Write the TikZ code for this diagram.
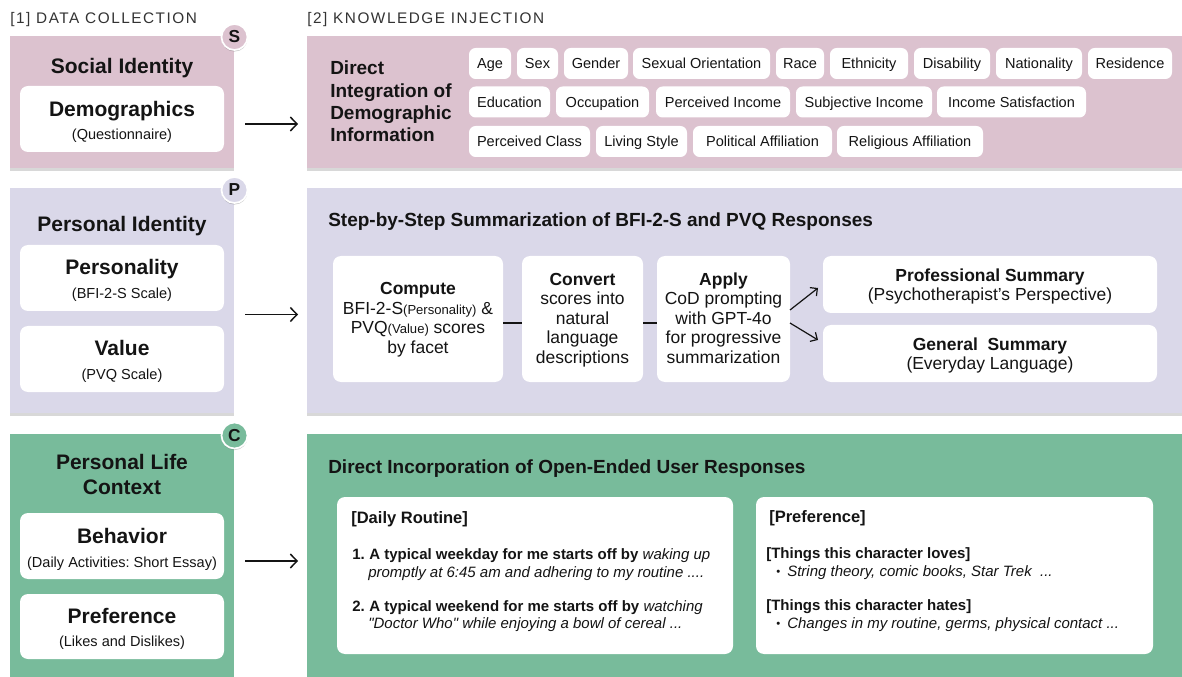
\documentclass[tikz,border=0pt]{standalone}
\usepackage{fontspec}
\setmainfont{Liberation Sans}
\newfontfamily\hdrfont[LetterSpace=10]{Liberation Sans}
\newfontfamily\rawfont{Liberation Sans}
\usetikzlibrary{arrows.meta,shadows,fit}
\definecolor{pinkbg}{HTML}{DCC2CF}
\definecolor{lavbg}{HTML}{DAD8E9}
\definecolor{greenbg}{HTML}{78BB9B}
\definecolor{ink}{HTML}{141414}
\definecolor{hdr}{HTML}{333333}
\newcommand\tg[5]{%
  \node[tagbox,fit={(#2,#4-15.5)(#3,#4+15.5)}] (#1) {};
  \node[tagtxt] (#1t) at ({(#2+#3)/2},#4+5.4) {#5};}
\newcommand\sq{{\rawfont\itshape\symbol{34}}}
\frenchspacing
\begin{document}
\begin{tikzpicture}[x=0.75pt,y=-0.75pt,
  panel/.style={inner sep=0pt, outer sep=0pt, draw=none, drop shadow={shadow xshift=0pt,shadow yshift=-2.5pt,opacity=0.3,fill=black!50}},
  wbox/.style={fill=white, rounded corners=6pt, inner sep=0pt, outer sep=0pt},
  tagbox/.style={fill=white, rounded corners=5pt, inner sep=0pt, outer sep=0pt},
  tagtxt/.style={anchor=base, inner sep=0pt, text=ink, font=\fontsize{10.9}{13}\selectfont},
  hdrtxt/.style={anchor=base west, inner sep=0pt, text=hdr, font=\hdrfont\fontsize{11.5}{13}\selectfont},
  bigtitle/.style={anchor=base, inner sep=0pt, text=ink, font=\fontsize{15.75}{19}\selectfont\bfseries},
  subtxt/.style={anchor=base, inner sep=0pt, text=ink, font=\fontsize{10.9}{13}\selectfont},
  sectitle/.style={anchor=base west, inner sep=0pt, text=ink, font=\fontsize{14.25}{17}\selectfont\bfseries},
  steptxt/.style={anchor=base, inner sep=0pt, text=ink, font=\fontsize{13.1}{15}\selectfont},
  drhead/.style={anchor=base west, inner sep=0pt, text=ink, font=\fontsize{12.4}{15}\selectfont\bfseries},
  bodytxt/.style={anchor=base west, inner sep=0pt, text=ink, font=\fontsize{11.25}{13.5}\selectfont},
  dottxt/.style={anchor=base west, inner sep=0pt, text=ink, font=\fontsize{8.5}{10}\selectfont},
  badge/.style={circle, minimum size=19.5pt, inner sep=0pt, draw=white, line width=1.3pt, text=ink, font=\fontsize{13}{15}\selectfont\bfseries, drop shadow={shadow xshift=0pt,shadow yshift=-1.2pt,opacity=0.35,fill=black!60}},
  arr/.style={draw=ink, line width=1.1pt, -{Straight Barb[length=5pt,width=10.5pt]}},
  link/.style={draw=ink, line width=1.1pt},
  sarr/.style={draw=ink, line width=0.9pt, -{Straight Barb[length=4pt,width=8pt]}},
]
\useasboundingbox (0,0) rectangle (1182,677);
\fill[white] (0,0) rectangle (1182,677);

% headers
\node[hdrtxt] (h1) at (10,24) {[1] DATA COLLECTION};
\node[hdrtxt] (h2) at (307,24) {[2] KNOWLEDGE INJECTION};

% panels
\node[panel,fill=pinkbg,fit={(9.5,36)(234,168)}] (sL) {};
\node[panel,fill=pinkbg,fit={(307,36)(1182,168)}] (sR) {};
\node[panel,fill=lavbg,fit={(9.5,188)(234,413)}] (pL) {};
\node[panel,fill=lavbg,fit={(307,188)(1182,413)}] (pR) {};
\node[panel,fill=greenbg,fit={(9.5,434)(234,677)}] (cL) {};
\node[panel,fill=greenbg,fit={(307,434)(1182,677)}] (cR) {};

% badges
\node[badge,fill=pinkbg] (bS) at (234.5,37) {S};
\node[badge,fill=lavbg] (bP) at (234.5,190) {P};
\node[badge,fill=greenbg] (bC) at (234.5,435.5) {C};

% left: social identity
\node[bigtitle] (tS) at (122,74) {Social Identity};
\node[wbox,fit={(20,86)(224,152)}] (demo) {};
\node[bigtitle] (demoT) at (122,117) {Demographics};
\node[subtxt] (demoS) at (122,139.5) {(Questionnaire)};

% left: personal identity
\node[bigtitle] (tP) at (122,232) {Personal Identity};
\node[wbox,fit={(20,245)(224,311)}] (pers) {};
\node[bigtitle] (persT) at (122,275) {Personality};
\node[subtxt] (persS) at (122,299) {(BFI-2-S Scale)};
\node[wbox,fit={(20,326)(224,392)}] (val) {};
\node[bigtitle] (valT) at (122,355) {Value};
\node[subtxt] (valS) at (122,379) {(PVQ Scale)};

% left: personal life context
\node[bigtitle] (tC1) at (122,469) {Personal Life};
\node[bigtitle] (tC2) at (122,494) {Context};
\node[wbox,fit={(20,513)(224,579)}] (beh) {};
\node[bigtitle] (behT) at (122,543) {Behavior};
\node[subtxt] (behS) at (122,567) {(Daily Activities: Short Essay)};
\node[wbox,fit={(20,594)(224,659)}] (prf) {};
\node[bigtitle] (prfT) at (122,623) {Preference};
\node[subtxt] (prfS) at (122,646) {(Likes and Dislikes)};

% main arrows
\draw[arr] ([shift={(11,22)}]sL.east) -- ([shift={(-9,22)}]sR.west);
\draw[arr] ([shift={(11,14)}]pL.east) -- ([shift={(-9,14)}]pR.west);
\draw[arr] ([shift={(11,5.5)}]cL.east) -- ([shift={(-9,5.5)}]cR.west);

% demographic integration
\node[sectitle] (di1) at (330,75) {Direct};
\node[sectitle] (di2) at (330,97.3) {Integration of};
\node[sectitle] (di3) at (330,119.6) {Demographic};
\node[sectitle] (di4) at (330,142) {Information};

\tg{age}{469}{511}{63.5}{Age}
\tg{sex}{517}{558}{63.5}{Sex}
\tg{gender}{564}{628}{63.5}{Gender}
\tg{sexor}{633}{770}{63.5}{Sexual Orientation}
\tg{race}{776}{824}{63.5}{Race}
\tg{eth}{830}{908}{63.5}{Ethnicity}
\tg{dis}{914}{990}{63.5}{Disability}
\tg{nat}{996}{1082}{63.5}{Nationality}
\tg{res}{1088}{1172}{63.5}{Residence}
\tg{edu}{469}{550}{102}{Education}
\tg{occ}{556}{649}{102}{Occupation}
\tg{pinc}{656}{790}{102}{Perceived Income}
\tg{sinc}{796}{932}{102}{Subjective Income}
\tg{isat}{937}{1086}{102}{Income Satisfaction}
\tg{pcls}{469}{590}{141.5}{Perceived Class}
\tg{liv}{596}{687}{141.5}{Living Style}
\tg{pol}{693}{832}{141.5}{Political Affiliation}
\tg{rel}{837}{983}{141.5}{Religious Affiliation}

% step-by-step summarization
\node[sectitle] (stT) at (328,226.5) {Step-by-Step Summarization of BFI-2-S and PVQ Responses};
\node[wbox,fit={(333,256)(503,382)}] (cmp) {};
\node[wbox,fit={(522,256)(643,382)}] (cnv) {};
\node[wbox,fit={(657,256)(790,382)}] (apl) {};
\node[wbox,fit={(823,256)(1157,313)}] (pro) {};
\node[wbox,fit={(823,325)(1157,382)}] (gen) {};

\node[steptxt] (cmp1) at (418,295) {\textbf{Compute}};
\node[steptxt] (cmp2) at (418,314.5) {BFI-2-S{\fontsize{9.8}{12}\selectfont(Personality)} \&};
\node[steptxt] (cmp3) at (418,334) {PVQ{\fontsize{9.8}{12}\selectfont(Value)} scores};
\node[steptxt] (cmp4) at (418,353.5) {by facet};

\node[steptxt] (cnv1) at (582.5,285.5) {\textbf{Convert}};
\node[steptxt] (cnv2) at (582.5,305) {scores into};
\node[steptxt] (cnv3) at (582.5,324.5) {natural};
\node[steptxt] (cnv4) at (582.5,344) {language};
\node[steptxt] (cnv5) at (582.5,363.5) {descriptions};

\node[steptxt] (apl1) at (723.5,285.5) {\textbf{Apply}};
\node[steptxt] (apl2) at (723.5,305) {CoD prompting};
\node[steptxt] (apl3) at (723.5,324.5) {with GPT-4o};
\node[steptxt] (apl4) at (723.5,344) {for progressive};
\node[steptxt] (apl5) at (723.5,363.5) {summarization};

\node[steptxt] (pro1) at (990,281.7) {\textbf{Professional Summary}};
\node[steptxt] (pro2) at (990,301) {(Psychotherapist’s Perspective)};
\node[steptxt] (gen1) at (990,350) {\textbf{General~~Summary}};
\node[steptxt] (gen2) at (990,369) {(Everyday Language)};

\draw[link] ([shift={(0,4)}]cmp.east) -- ([shift={(0,4)}]cnv.west);
\draw[link] ([shift={(0,4)}]cnv.east) -- ([shift={(0,4)}]apl.west);
\draw[sarr] ([shift={(0,-9)}]apl.east) -- ([shift={(-5,3.5)}]pro.west);
\draw[sarr] ([shift={(0,4)}]apl.east) -- ([shift={(-5,-13.5)}]gen.west);

% open-ended responses
\node[sectitle] (ctT) at (328,473) {Direct Incorporation of Open-Ended User Responses};
\node[wbox,fit={(337,497)(733,654)}] (dr) {};
\node[wbox,fit={(756,497)(1153,654)}] (pf) {};

\node[drhead] (drH) at (351,523) {[Daily Routine]};
\node[bodytxt] (dr1n) at (352,559) {\textbf{1.}};
\node[bodytxt] (dr1a) at (369,559) {\textbf{A typical weekday for me starts off by} \textit{waking up}};
\node[bodytxt] (dr1b) at (368,577) {\textit{promptly at 6:45 am and adhering to my routine ....}};
\node[bodytxt] (dr2n) at (352,611) {\textbf{2.}};
\node[bodytxt] (dr2a) at (369,611) {\textbf{A typical weekend for me starts off by} \textit{watching}};
\node[bodytxt] (dr2b) at (368,628.5) {\textit{\sq Doctor Who\sq{} while enjoying a bowl of cereal ...}};

\node[drhead] (pfH) at (769,522.7) {[Preference]};
\node[bodytxt] (pf1h) at (766,558) {\textbf{[Things this character loves]}};
\node[dottxt] (pf1d) at (776,575) {•};
\node[bodytxt] (pf1t) at (787,576) {\textit{String theory, comic books, Star Trek\ \ ...}};
\node[bodytxt] (pf2h) at (766,610.7) {\textbf{[Things this character hates]}};
\node[dottxt] (pf2d) at (776,627) {•};
\node[bodytxt] (pf2t) at (787,628) {\textit{Changes in my routine, germs, physical contact ...}};
\end{tikzpicture}
\end{document}
